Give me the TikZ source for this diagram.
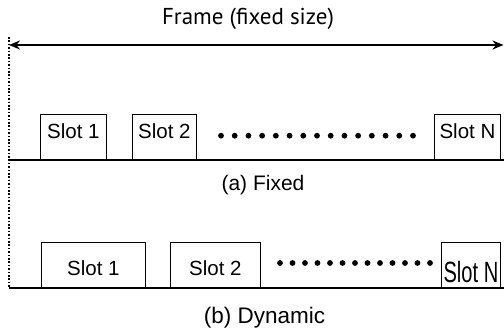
\documentclass[tikz,border=0pt]{standalone}
\usepackage{fontspec}
\usepackage{graphicx}
\setmainfont{Liberation Sans}
\newfontfamily\titlefont{PT Sans}
\usetikzlibrary{arrows.meta}
\begin{document}
\begin{tikzpicture}[x=1pt,y=-1pt,
  slotbox/.style={draw, line width=0.9pt, inner sep=0pt, anchor=south west,
    font=\fontsize{20.5}{20.5}\selectfont},
  fixedbox/.style={slotbox, minimum height=45pt, text depth=12pt},
  dynbox/.style={slotbox, minimum height=45pt, text height=21pt, text depth=0pt},
  baseline line/.style={line width=1.8pt},
  frame arrow/.style={line width=2.4pt, {Stealth[length=11pt,width=9pt]}-{Stealth[length=11pt,width=9pt]}},
  border line/.style={line width=1.8pt, dash pattern=on 1.6pt off 1.8pt},
  dot/.style={fill=black},
  caption/.style={inner sep=0pt}
]
\useasboundingbox (0,0) rectangle (504,331);

% title and frame arrow
\node[caption, font=\titlefont\fontsize{23}{23}\selectfont] (title) at (248,19) {Frame (fixed size)};
\coordinate (fl) at (9,45);
\coordinate (fr) at (503.5,45);
\draw[frame arrow] (fl) -- (fr);

% dotted left border
\coordinate (bt) at (9,37);
\coordinate (bb) at (9,288);
\draw[border line] (bt) -- (bb);

% (a) fixed
\coordinate (al) at (9,160);
\coordinate (ar) at (504,160);
\draw[baseline line] (al) -- (ar);
\node[fixedbox, minimum width=66pt] (a1) at (40,160) {Slot 1};
\node[fixedbox, minimum width=64pt] (a2) at (132,160) {Slot 2};
\node[fixedbox, minimum width=66pt] (aN) at (434,160) {Slot N};
\foreach \i in {0,...,14} \fill[dot] (221+13.714*\i,135.7) circle (2.9pt);
\node[caption, font=\fontsize{21}{21}\selectfont] (capa) at (263,185) {(a) Fixed};

% (b) dynamic
\coordinate (bl) at (9,288);
\coordinate (br) at (504,288);
\draw[baseline line] (bl) -- (br);
\node[dynbox, minimum width=104pt] (b1) at (41,288) {Slot 1};
\node[dynbox, minimum width=90pt] (b2) at (170,288) {Slot 2};
\node[slotbox, minimum width=59pt, minimum height=45pt, text height=35pt, text depth=0pt] (bN) at (441,288) {\scalebox{0.98}[1.43]{Slot N}};
\foreach \i in {0,...,12} \fill[dot] (280+12.5*\i,263) circle (2.9pt);
\node[caption, font=\fontsize{22.5}{22.5}\selectfont] (capb) at (264.5,318) {(b) Dynamic};
\end{tikzpicture}
\end{document}
